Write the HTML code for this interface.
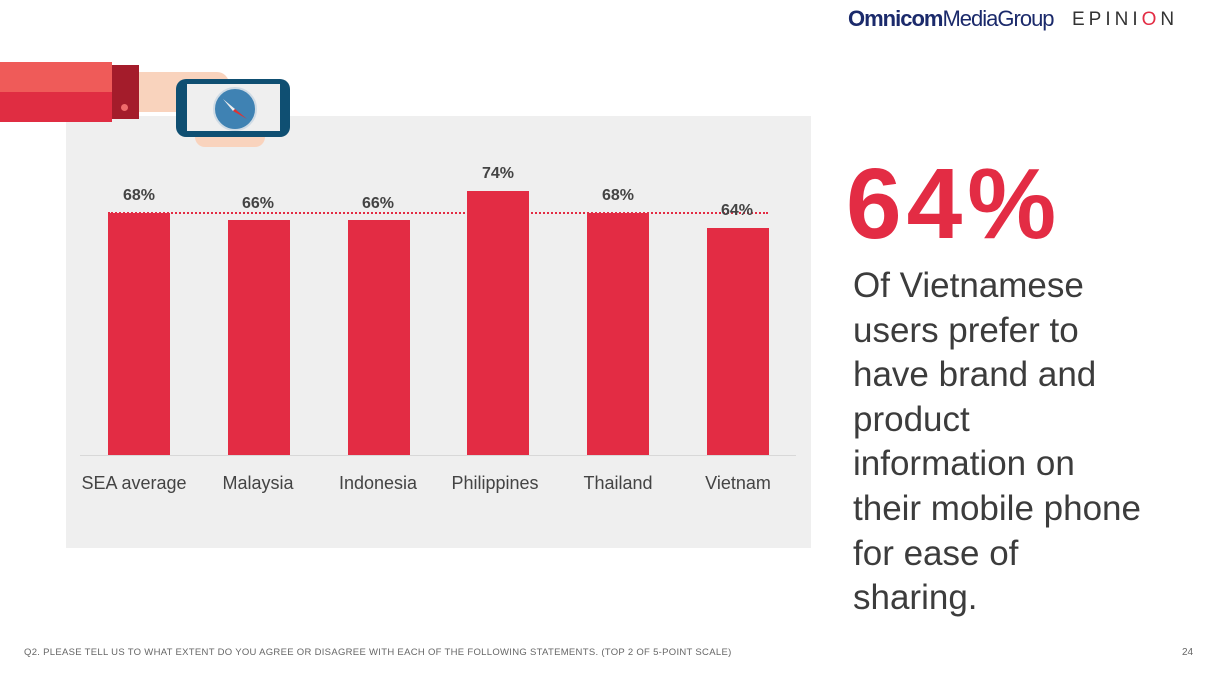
<!DOCTYPE html>
<html><head><meta charset="utf-8"><style>
body{margin:0;width:1223px;height:683px;background:#fff;position:relative;overflow:hidden;font-family:"Liberation Sans",sans-serif}
.a{position:absolute}
.bar{position:absolute;background:#e32c44;width:62px}
.v{position:absolute;font-weight:bold;font-size:16px;color:#444;width:80px;text-align:center}
.l{position:absolute;top:473px;font-size:18px;color:#444;width:130px;text-align:center}
</style></head><body>
<div class="a" style="left:66px;top:116px;width:745px;height:432px;background:#efefef"></div>
<!-- arm -->
<div class="a" style="left:0;top:62px;width:112px;height:30px;background:#ef5b59"></div>
<div class="a" style="left:0;top:92px;width:112px;height:30px;background:#e02d42"></div>
<div class="a" style="left:112px;top:65px;width:27px;height:54px;background:#a41c2b"></div>
<div class="a" style="left:121px;top:104px;width:7px;height:7px;border-radius:50%;background:#ef6b6b"></div>
<div class="a" style="left:139px;top:72px;width:90px;height:40px;background:#f9d3bd;border-radius:0 12px 4px 0"></div>
<div class="a" style="left:195px;top:125px;width:70px;height:22px;background:#f9d3bd;border-radius:10px"></div>
<div class="a" style="left:176px;top:79px;width:114px;height:58px;background:#0f4f72;border-radius:10px"></div>
<div class="a" style="left:187px;top:84px;width:93px;height:47px;background:#efefef"></div>
<div class="a" style="left:213px;top:87px;width:40px;height:40px;border-radius:50%;background:#3f82b3;border:2px solid #cfdbe5"></div>
<svg class="a" style="left:213px;top:87px" width="44" height="44"><polygon points="10,12 22,22 20,24" fill="#eee"/><polygon points="22,22 34,32 20,24" fill="#d33"/></svg>
<!-- chart -->
<div class="a" style="left:80px;top:455px;width:716px;height:1px;background:#d8d8d8"></div>
<div class="a" style="left:108px;top:212px;width:660px;border-top:2px dotted #e32c44"></div>
<div class="bar" style="left:108px;top:213px;height:242px"></div>
<div class="bar" style="left:228px;top:220px;height:235px"></div>
<div class="bar" style="left:348px;top:220px;height:235px"></div>
<div class="bar" style="left:467px;top:191px;height:264px"></div>
<div class="bar" style="left:587px;top:213px;height:242px"></div>
<div class="bar" style="left:707px;top:228px;height:227px"></div>
<div class="v" style="left:99px;top:187px">68%</div>
<div class="v" style="left:218px;top:195px">66%</div>
<div class="v" style="left:338px;top:195px">66%</div>
<div class="v" style="left:458px;top:165px">74%</div>
<div class="v" style="left:578px;top:187px">68%</div>
<div class="v" style="left:697px;top:202px">64%</div>
<div class="l" style="left:69px">SEA average</div>
<div class="l" style="left:193px">Malaysia</div>
<div class="l" style="left:313px">Indonesia</div>
<div class="l" style="left:430px">Philippines</div>
<div class="l" style="left:553px">Thailand</div>
<div class="l" style="left:673px">Vietnam</div>
<!-- right -->
<div class="a" style="left:846px;top:147px;font-size:100px;font-weight:bold;color:#e32c44;letter-spacing:5px">64%</div>
<div class="a" style="left:853px;top:264px;font-size:35px;line-height:44.6px;color:#3c3c3c;white-space:nowrap">Of Vietnamese<br>users prefer to<br>have brand and<br>product<br>information on<br>their mobile phone<br>for ease of<br>sharing.</div>
<div class="a" style="left:848px;top:6px;font-size:22px;font-weight:bold;color:#1b2a6b;letter-spacing:-1px">Omnicom<span style="font-weight:normal">MediaGroup</span></div>
<div class="a" style="left:1072px;top:9px;font-size:19px;color:#333;letter-spacing:4px">EPINI<span style="color:#e32c44">O</span>N</div>
<div class="a" style="left:24px;top:647px;font-size:9.5px;color:#666;letter-spacing:0.3px">Q2. PLEASE TELL US TO WHAT EXTENT DO YOU AGREE OR DISAGREE WITH EACH OF THE FOLLOWING STATEMENTS. (TOP 2 OF 5-POINT SCALE)</div>
<div class="a" style="left:1182px;top:647px;font-size:10px;color:#666">24</div>
</body></html>
